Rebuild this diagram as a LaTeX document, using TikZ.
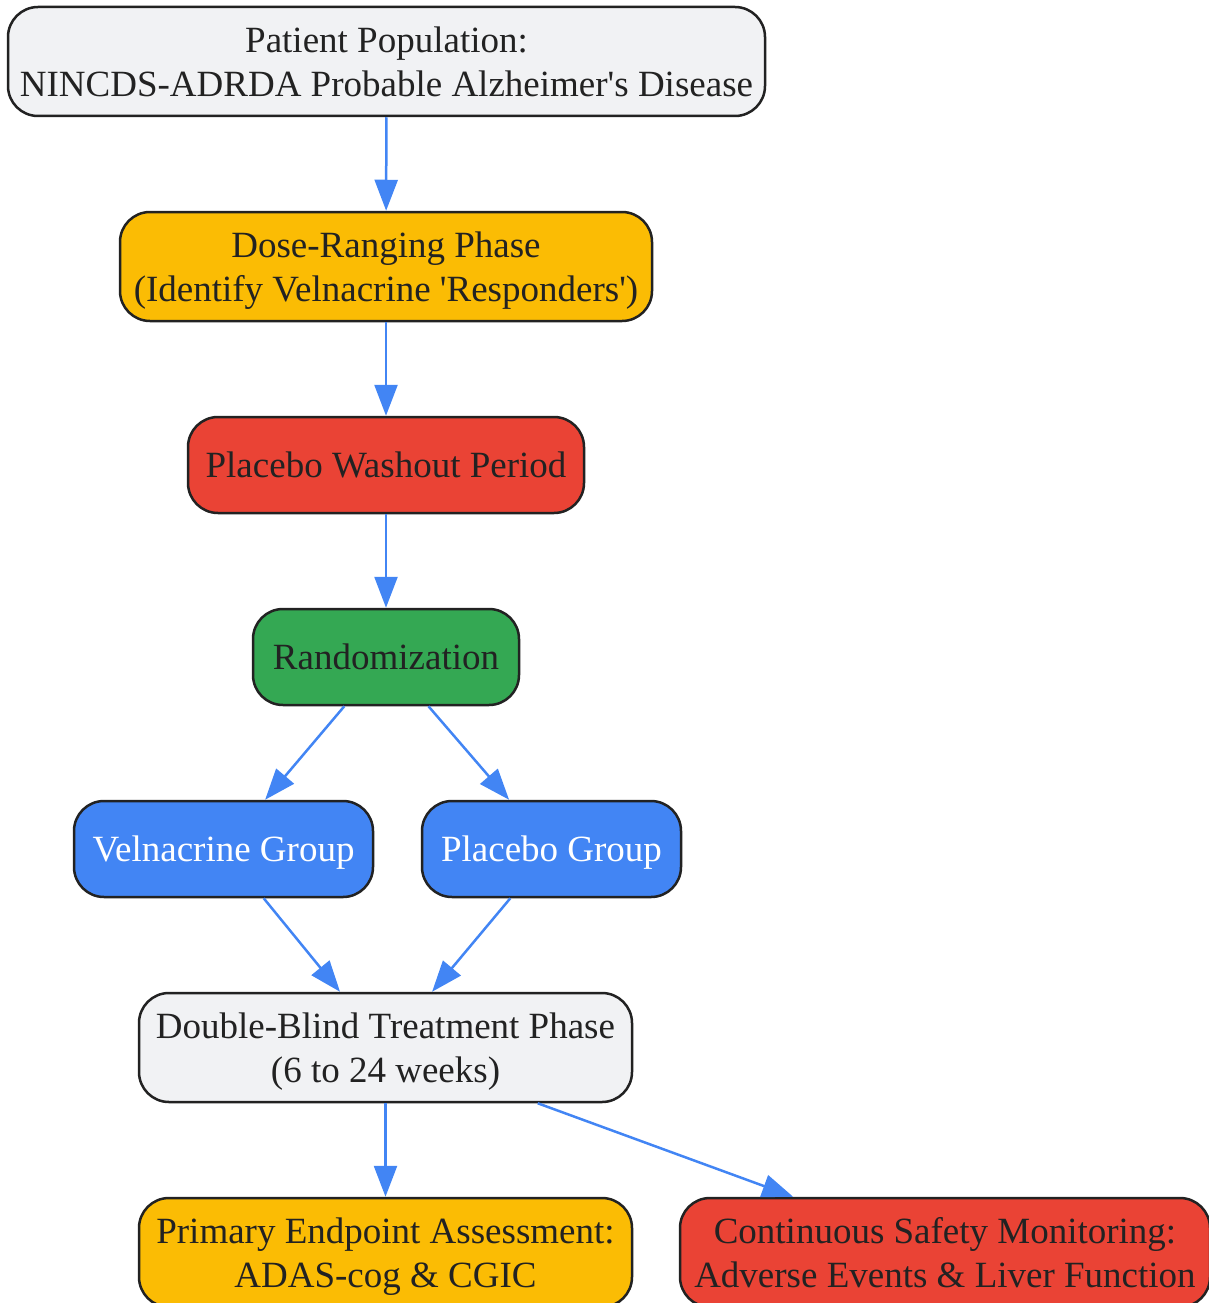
\documentclass[tikz,border=0pt]{standalone}
\usepackage{fontspec}
\setmainfont{Liberation Serif}[Ligatures=TeXOff]
\usepackage{xcolor}
\usetikzlibrary{arrows.meta}
\definecolor{boxgrey}{HTML}{F1F2F4}
\definecolor{boxyellow}{HTML}{FBBC04}
\definecolor{boxred}{HTML}{EA4335}
\definecolor{boxgreen}{HTML}{34A853}
\definecolor{boxblue}{HTML}{4285F4}
\definecolor{inkdark}{HTML}{222222}
\tikzstyle{stage}=[rectangle,rounded corners=30pt,draw=inkdark,line width=2.5pt,align=center,inner sep=0pt,text depth=0pt,text=inkdark,font=\fontsize{37}{44}\selectfont]
\tikzstyle{greybox}=[fill=boxgrey]
\tikzstyle{yellowbox}=[fill=boxyellow]
\tikzstyle{redbox}=[fill=boxred]
\tikzstyle{greenbox}=[fill=boxgreen]
\tikzstyle{bluebox}=[fill=boxblue,text=white]
\tikzstyle{edge} = [draw,line width=2.5pt,boxblue,-{Triangle[length=31pt,width=23pt]}]

\begin{document}
\begin{tikzpicture}[x=1pt,y=1pt]

 \useasboundingbox (0,0) rectangle (1208,-1303);

 %stages
 \foreach \x/\y/\w/\h/\name/\kind/\label in {
   386.5/61.5/757/109/pop/greybox/{Patient Population:\\NINCDS-ADRDA Probable Alzheimer's Disease},
   386/266.5/532/109/dose/yellowbox/{Dose-Ranging Phase\\(Identify Velnacrine 'Responders')},
   386/465/396/96/wash/redbox/{Placebo Washout Period},
   386/657/266/96/rand/greenbox/{Randomization},
   223.5/849/299/96/vel/bluebox/{Velnacrine Group},
   551.5/849/259/96/plc/bluebox/{Placebo Group},
   385.5/1047.5/493/109/dbl/greybox/{Double-Blind Treatment Phase\\(6 to 24 weeks)},
   385.5/1252.5/493/109/prim/yellowbox/{Primary Endpoint Assessment:\\ADAS-cog \& CGIC},
   945/1252.5/530/109/safe/redbox/{Continuous Safety Monitoring:\\Adverse Events \& Liver Function}}
        \node[stage,\kind,minimum width=\w,minimum height=\h] (\name) at (\x,-\y) {\label};

 %flow
 \foreach \source/ \dest in {pop/dose, dose/wash, wash/rand, rand/vel, rand/plc, vel/dbl, plc/dbl, dbl/prim, dbl/safe}
        \path[edge] (\source) -- (\dest);

\end{tikzpicture}
\end{document}
